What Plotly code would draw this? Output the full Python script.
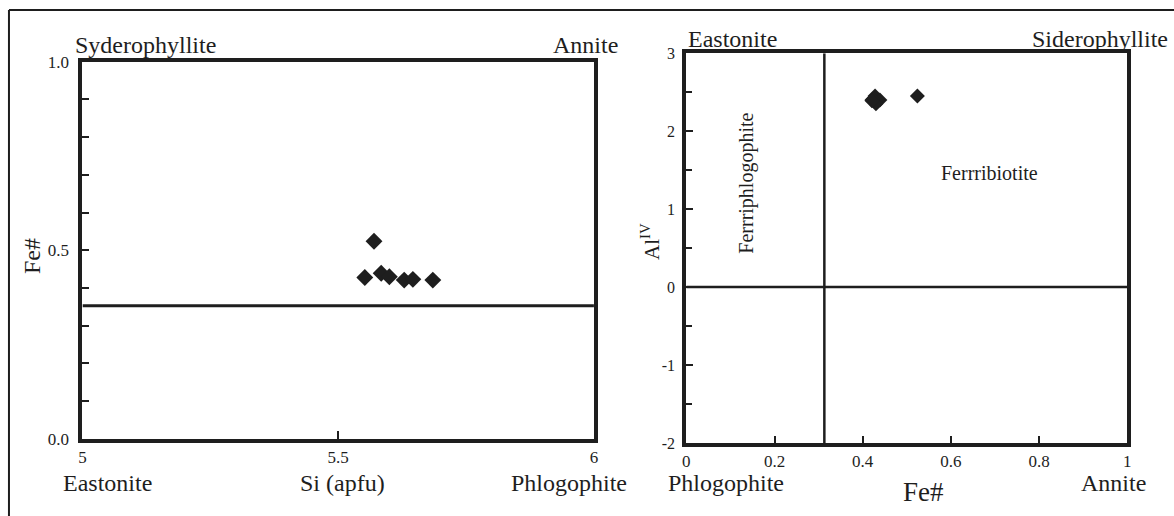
import plotly.graph_objects as go

W, H = 1174, 516
# the photographed page maps figure y to picture y as  y_pic = Y0 + YS * y_fig
Y0, YS = 7.0, 0.97

# ---- data ----
si_apfu = [5.570, 5.552, 5.584, 5.600, 5.629, 5.646, 5.685]
fe_num = [0.524, 0.428, 0.439, 0.430, 0.421, 0.423, 0.421]
al_iv = [2.45, 2.45, 2.40, 2.35, 2.40, 2.41, 2.39]

left_x_ticks = [5, 5.5, 6]
left_x_ticktext = ["5", "5.5", "6"]
left_y_ticks = [0.0, 0.5, 1.0]
left_y_ticktext = ["0.0", "0.5", "1.0"]
right_x_ticks = [0, 0.2, 0.4, 0.6, 0.8, 1]
right_x_ticktext = ["0", "0.2", "0.4", "0.6", "0.8", "1"]
right_y_ticks = [-2, -1, 0, 1, 2, 3]
right_y_ticktext = ["-2", "-1", "0", "1", "2", "3"]

FE_BOUNDARY = 0.353     # horizontal line, left diagram
FE_SPLIT = 0.313        # vertical line, right diagram

FONT = "Liberation Serif"
INK = "#1e1e1e"


def px(x):
    """picture pixel x -> paper fraction"""
    return x / W


def py(y):
    """picture pixel y -> paper fraction"""
    return 1 - ((y - Y0) / YS) / H


fig = go.Figure()
fig.add_trace(go.Scatter(x=si_apfu, y=fe_num, mode="markers",
                         marker=dict(symbol="diamond", size=13, color=INK),
                         xaxis="x", yaxis="y", showlegend=False, hoverinfo="skip"))
fig.add_trace(go.Scatter(x=fe_num, y=al_iv, mode="markers",
                         marker=dict(symbol="diamond", size=11.5, color=INK),
                         xaxis="x2", yaxis="y2", showlegend=False, hoverinfo="skip"))

axis_common = dict(showgrid=False, zeroline=False, showline=True, linecolor=INK,
                   linewidth=4, mirror=True, ticks="inside", tickcolor=INK,
                   tickwidth=2, ticklen=7)

fig.update_layout(
    width=W, height=H, margin=dict(l=0, r=0, t=0, b=0),
    paper_bgcolor="white", plot_bgcolor="white",
    xaxis=dict(axis_common, domain=[px(79), px(594)], range=[5, 6],
               tickvals=left_x_ticks, ticktext=left_x_ticktext, anchor="y",
               ticklen=8, tickfont=dict(family=FONT, size=17, color=INK)),
    yaxis=dict(axis_common, domain=[py(440), py(60)], range=[0, 1],
               tickvals=left_y_ticks, ticktext=left_y_ticktext, anchor="x",
               ticklabelstandoff=6,
               tickfont=dict(family=FONT, size=17, color=INK),
               minor=dict(dtick=0.1, ticks="inside", ticklen=7, tickwidth=2, tickcolor=INK)),
    xaxis2=dict(axis_common, domain=[px(687), px(1131)], range=[0, 1],
                tickvals=right_x_ticks, ticktext=right_x_ticktext, anchor="y2",
                tickfont=dict(family=FONT, size=17, color=INK)),
    yaxis2=dict(axis_common, domain=[py(444), py(51.5)], range=[-2, 3],
                tickvals=right_y_ticks, ticktext=right_y_ticktext, anchor="x2",
                ticklabelstandoff=4,
                tickfont=dict(family=FONT, size=16, color=INK),
                minor=dict(dtick=0.5, ticks="inside", ticklen=6, tickwidth=2, tickcolor=INK)),
)

shapes = [
    dict(type="line", xref="x", yref="y", x0=5, x1=6, y0=FE_BOUNDARY, y1=FE_BOUNDARY,
         line=dict(color=INK, width=3)),
    dict(type="line", xref="x2", yref="y2", x0=0, x1=1, y0=0, y1=0,
         line=dict(color=INK, width=2.5)),
    dict(type="line", xref="x2", yref="y2", x0=FE_SPLIT, x1=FE_SPLIT, y0=-2, y1=3,
         line=dict(color=INK, width=2.5)),
    # outer frame (top and left edges)
    dict(type="line", xref="paper", yref="paper", x0=px(5), x1=px(5), y0=py(8), y1=-0.05,
         line=dict(color=INK, width=2)),
    dict(type="line", xref="paper", yref="paper", x0=px(5), x1=1.05, y0=py(8), y1=py(8),
         line=dict(color=INK, width=2)),
]
fig.update_layout(shapes=shapes)


def ann(text, x, y, size=24, angle=0):
    fig.add_annotation(text=text, x=px(x), y=py(y), xref="paper", yref="paper",
                       showarrow=False, textangle=angle, xanchor="center", yanchor="middle",
                       font=dict(family=FONT, size=size, color=INK))


# left diagram labels
ann("Syderophyllite", 142, 43)
ann("Annite", 585, 43)
ann("Eastonite", 104, 484)
ann("Si (apfu)", 341, 484)
ann("Phlogophite", 569, 484)
ann("Fe#", 28, 256, size=24, angle=-90)

# right diagram labels
ann("Eastonite", 733, 37)
ann("Siderophyllite", 1104, 37)
ann("Phlogophite", 727, 484)
ann("Annite", 1117, 484)
ann("Fe#", 926, 493, size=27)
ann("Al<sup>IV</sup>", 651, 241, size=21, angle=-90)
ann("Ferrriphlogophite", 748, 182, size=20, angle=-90)
ann("Ferrribiotite", 992, 172, size=20)

fig.write_html(
    "out.html",
    config={"displayModeBar": False},
    post_script="document.body.style.margin='0';document.body.style.overflow='hidden';",
)
